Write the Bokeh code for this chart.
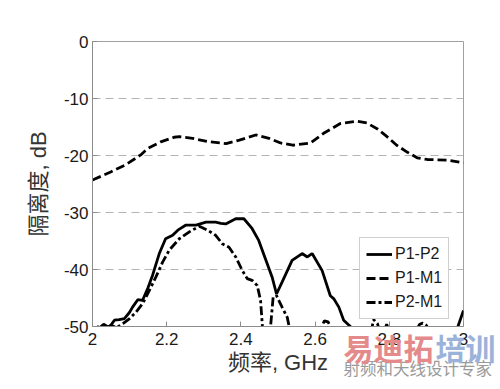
from bokeh.plotting import figure
from bokeh.models import Legend, LegendItem, FixedTicker, Range1d, Title
from bokeh.embed import file_html
from bokeh.resources import INLINE

# ---------------- data ----------------
f_p1p2 = [2.00, 2.02, 2.03, 2.045, 2.059, 2.072, 2.086, 2.10, 2.108, 2.122, 2.135, 2.149,
          2.162, 2.18, 2.197, 2.216, 2.23, 2.252, 2.279, 2.306, 2.332, 2.346, 2.359, 2.386,
          2.408, 2.43, 2.448, 2.466, 2.484, 2.496, 2.511, 2.538, 2.565, 2.579, 2.592, 2.619,
          2.641, 2.65, 2.664, 2.677, 2.695, 2.71, 2.80, 2.90, 2.97, 2.985, 3.00]
v_p1p2 = [-51.5, -50.2, -49.6, -50.2, -48.9, -48.8, -48.6, -47.5, -46.6, -45.3, -45.4, -43.3,
          -41.0, -37.2, -34.6, -34.0, -33.1, -32.2, -32.2, -31.7, -31.7, -31.9, -32.0, -31.1,
          -31.1, -32.8, -34.9, -38.1, -41.3, -44.3, -42.2, -38.4, -37.2, -37.8, -37.2, -40.2,
          -44.6, -45.1, -46.6, -48.9, -50.0, -51.5, -53.0, -53.0, -52.0, -50.0, -47.2]

f_p1m1 = [2.00, 2.049, 2.09, 2.13, 2.148, 2.184, 2.22, 2.234, 2.27, 2.315, 2.36, 2.396,
          2.44, 2.476, 2.507, 2.54, 2.588, 2.623, 2.668, 2.713, 2.74, 2.767, 2.794, 2.82,
          2.848, 2.875, 2.902, 2.956, 3.00]
v_p1m1 = [-24.3, -22.9, -21.6, -19.9, -18.8, -17.6, -16.8, -16.7, -17.0, -17.6, -17.9, -17.3,
          -16.4, -17.0, -17.8, -18.2, -17.8, -16.1, -14.4, -14.0, -14.3, -15.3, -16.7, -18.2,
          -19.4, -20.4, -20.7, -20.8, -21.3]

f_p2m1 = [2.00, 2.019, 2.035, 2.05, 2.065, 2.082, 2.10, 2.117, 2.135, 2.153, 2.171, 2.189,
          2.207, 2.234, 2.261, 2.288, 2.31, 2.332, 2.35, 2.368, 2.386, 2.404, 2.417, 2.43,
          2.444, 2.453, 2.458, 2.465, 2.475, 2.48, 2.487, 2.496, 2.511, 2.525, 2.53, 2.54,
          2.60, 2.615, 2.625, 2.635, 2.645, 2.66, 2.74, 2.752, 2.758, 2.768, 2.775, 2.78,
          2.785, 2.793, 2.80, 2.86, 2.874, 2.882, 2.89, 2.90, 2.91, 2.95, 3.00]
v_p2m1 = [-51.0, -49.8, -50.3, -49.8, -50.2, -49.5, -48.6, -47.5, -46.0, -43.7, -41.3, -38.7,
          -36.6, -34.6, -33.4, -32.4, -33.1, -34.0, -35.5, -36.1, -37.8, -40.2, -41.6, -41.9,
          -42.8, -45.4, -50.0, -54.0, -54.0, -50.0, -44.8, -44.6, -46.6, -48.4, -50.0, -53.0,
          -53.0, -50.5, -49.0, -49.2, -50.5, -53.0, -53.0, -50.5, -48.8, -49.5, -51.0, -53.0,
          -51.0, -49.6, -51.0, -53.0, -50.5, -49.6, -49.4, -49.8, -51.0, -53.0, -53.0]

x_ticks = [2.0, 2.2, 2.4, 2.6, 2.8, 3.0]
x_tick_labels = ["2", "2.2", "2.4", "2.6", "2.8", "3"]
y_ticks = [-50, -40, -30, -20, -10, 0]
y_tick_labels = ["-50", "-40", "-30", "-20", "-10", "0"]

series_names = ["P1-P2", "P1-M1", "P2-M1"]

# ---------------- figure ----------------
p = figure(width=500, height=389, output_backend="svg", toolbar_location=None,
           x_range=Range1d(2, 3), y_range=Range1d(-50, 0),
           min_border_left=92, min_border_right=37, min_border_top=41, min_border_bottom=63)
p.background_fill_color = "white"
p.border_fill_color = "white"
p.outline_line_color = "#a0a0a0"
p.outline_line_width = 1

grey = "#8c8c8c"
for ax in (p.xaxis[0], p.yaxis[0]):
    ax.axis_line_color = grey
    ax.major_tick_line_color = grey
    ax.major_tick_in = 5
    ax.major_tick_out = 0
    ax.minor_tick_line_color = None
    ax.major_label_text_font = "Liberation Sans"
    ax.major_label_text_font_size = "17px"
    ax.major_label_text_color = "#1a1a1a"
    ax.axis_label_text_font = "'Liberation Sans', 'Noto Sans CJK SC'"
    ax.axis_label_text_font_size = "22px"
    ax.axis_label_text_font_style = "normal"
    ax.axis_label_text_color = "#333333"

p.xaxis.ticker = FixedTicker(ticks=x_ticks)
p.xaxis.major_label_overrides = dict(zip(x_ticks, x_tick_labels))
p.yaxis.ticker = FixedTicker(ticks=y_ticks)
p.yaxis.major_label_overrides = dict(zip(y_ticks, y_tick_labels))
p.xaxis.major_label_standoff = 6
p.yaxis.major_label_standoff = 4
p.xaxis.axis_label = "频率, GHz"
p.yaxis.axis_label = "隔离度, dB"
p.xaxis.axis_label_standoff = 2
p.yaxis.axis_label_standoff = 10

p.xgrid.grid_line_color = None
p.ygrid.grid_line_color = "#b4b4b4"
p.ygrid.grid_line_dash = "8 5"
p.ygrid.grid_line_width = 1

r1 = p.line(f_p1p2, v_p1p2, line_color="black", line_width=2.8)
r2 = p.line(f_p1m1, v_p1m1, line_color="black", line_width=2.8, line_dash="9 4")
r3 = p.line(f_p2m1, v_p2m1, line_color="black", line_width=2.8, line_dash="9 3 3 3")

legend = Legend(items=[LegendItem(label=series_names[0], renderers=[r1]),
                       LegendItem(label=series_names[1], renderers=[r2]),
                       LegendItem(label=series_names[2], renderers=[r3])],
                location=(267, 7))
legend.label_text_font = "Liberation Sans"
legend.label_text_font_size = "16px"
legend.label_text_color = "#1a1a1a"
legend.glyph_width = 26
legend.glyph_height = 20
legend.label_height = 20
legend.label_standoff = 3
legend.spacing = 4
legend.padding = 6
legend.margin = 0
legend.border_line_color = "#a0a0a0"
legend.border_line_width = 1
legend.background_fill_color = "white"
legend.background_fill_alpha = 1
p.add_layout(legend, "center")

# watermark, as zero-height titles in the panel below the axis
wm3 = Title(text="射频和天线设计专家", align="left", offset=251, standoff=-44,
            vertical_align="top",
            text_font="Noto Sans CJK SC", text_font_size="16.5px", text_font_style="normal",
            text_color="#9a9a9a")
wm1 = Title(text="易迪拓", align="left", offset=251, standoff=-106, vertical_align="top",
            text_font="Noto Sans CJK SC", text_font_size="30px", text_font_style="bold",
            text_color="#e58a8a")
wm2 = Title(text="培训", align="left", offset=343, standoff=-106, vertical_align="top",
            text_font="Noto Sans CJK SC", text_font_size="30px", text_font_style="bold",
            text_color="#9bb3da")
for wm in (wm3, wm1, wm2):
    p.add_layout(wm, "below")

open("out.html", "w").write(file_html(p, INLINE))
